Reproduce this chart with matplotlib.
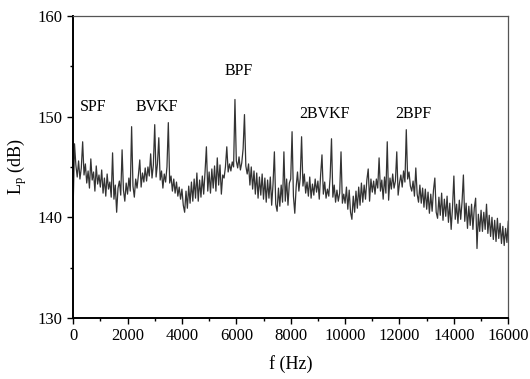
import numpy as np
import matplotlib
matplotlib.use("Agg")
import matplotlib.pyplot as plt
from matplotlib.ticker import MultipleLocator

plt.rcParams['font.family'] = ['Liberation Serif', 'DejaVu Serif']
plt.rcParams['mathtext.fontset'] = 'custom'
plt.rcParams['mathtext.rm'] = 'Liberation Serif'
plt.rcParams['mathtext.it'] = 'Liberation Serif:italic'

# spectrum, 50 Hz step from 0 to 16000 Hz
f_step = 50
lp_db = [
    141.0, 147.3, 145.2, 144.0, 145.6, 143.8, 144.9, 147.5, 144.2, 145.3,
    143.4, 144.6, 142.9, 145.8, 143.7, 144.5, 142.6, 145.1, 143.3, 144.2,
    143.0, 144.7, 142.4, 143.9, 142.1, 144.3, 142.8, 143.5, 142.0, 146.4,
    141.8, 143.2, 140.5, 142.9, 143.6, 142.2, 146.7, 142.7, 141.6, 143.4,
    142.3, 143.9, 142.6, 149.0, 143.1, 142.0, 143.8, 142.9, 144.2, 145.7,
    143.0, 144.4, 143.5, 144.9, 143.6, 145.0, 144.1, 146.3, 143.9, 145.2,
    149.2, 144.0, 145.3, 147.9, 143.7, 144.6, 142.9, 144.3, 143.5, 145.0,
    149.4, 143.4, 144.1, 142.6, 143.8, 142.4, 143.5, 142.1, 143.0, 141.8,
    142.8, 141.2, 140.5, 142.6, 140.9, 143.1, 141.4, 143.5, 141.6, 143.8,
    141.9, 144.4, 141.6, 143.7, 142.0, 144.1, 142.3, 144.5, 147.0, 142.6,
    144.5, 142.4, 144.8, 142.9, 145.1, 142.6, 145.9, 143.2, 145.2, 142.3,
    144.2, 143.9, 145.0, 147.0, 144.5, 145.3, 144.6, 145.5, 145.0, 151.7,
    145.6, 144.9, 146.0, 144.7, 145.4, 146.8, 150.2, 145.1, 144.3, 145.3,
    143.2, 145.0, 142.8, 144.6, 142.3, 144.4, 141.9, 144.0, 142.2, 144.3,
    141.8, 143.9, 141.5, 143.7, 141.9, 144.0, 141.2, 143.3, 146.5, 141.3,
    140.6, 142.9, 141.1, 143.2, 141.5, 146.5, 141.6, 143.8, 141.2, 143.4,
    143.8, 148.5, 142.1, 140.4, 143.0, 144.5, 142.6, 143.9, 148.0, 143.1,
    144.3, 142.4, 143.5, 142.1, 144.0, 141.9, 143.3, 142.2, 143.8, 142.5,
    143.6, 141.8, 144.2, 146.2, 142.3, 143.5, 141.9, 142.8, 142.1, 144.0,
    147.8, 142.0, 143.2, 141.5, 142.7, 141.6, 142.4, 146.5, 141.4, 142.3,
    141.4, 143.0, 140.8, 142.7, 140.5, 139.8, 142.1, 140.5, 142.6, 140.9,
    143.0, 141.2, 143.4, 141.5, 143.2, 141.8, 143.7, 144.8, 141.6, 143.8,
    142.5, 143.6, 142.3, 143.8, 142.9, 145.9, 142.6, 143.7, 141.8, 144.0,
    142.4, 147.5, 141.7, 143.9, 142.8, 144.3, 142.9, 143.6, 146.5, 142.2,
    143.4, 144.2, 143.0, 144.6, 143.5, 148.7, 143.8, 144.5, 143.1, 142.6,
    143.6, 142.1, 144.9, 142.3, 141.5, 143.2, 141.4, 142.9, 141.0, 142.8,
    140.8, 142.5, 140.4, 142.3, 140.6, 142.7, 143.9, 140.5, 139.9, 142.0,
    140.2, 142.4, 139.7, 141.8, 140.1, 142.1, 139.5, 141.4, 138.8, 141.0,
    144.1, 139.8, 141.3, 139.4, 141.7, 139.8, 141.5, 144.2, 139.6, 141.4,
    138.9, 141.1, 139.2, 141.3, 138.8, 140.9, 141.9, 136.9, 140.3, 138.6,
    140.7, 138.6, 140.5, 138.8, 141.3, 138.4, 140.2, 138.1, 140.0, 137.8,
    139.7, 137.6, 139.9, 137.9, 139.4, 137.4, 139.1, 137.2, 138.9, 137.5,
    139.6,
]
freq = np.arange(len(lp_db)) * f_step

peak_labels = ["SPF", "BVKF", "BPF", "2BVKF", "2BPF"]
label_f = [250, 2300, 5580, 8330, 11860]
label_db = [151.0, 151.0, 154.5, 150.3, 150.3]

fig = plt.figure(figsize=(5.30, 3.79), dpi=100)
ax = fig.add_axes([0.138, 0.161, 0.821, 0.797])

ax.plot(freq, lp_db, color='#333333', linewidth=0.9)

for name, x, y in zip(peak_labels, label_f, label_db):
    ax.text(x, y, name, fontsize=11.5, ha='left', va='center')

ax.set_xlim(0, 16000)
ax.set_ylim(130, 160)
ax.xaxis.set_major_locator(MultipleLocator(2000))
ax.xaxis.set_minor_locator(MultipleLocator(1000))
ax.yaxis.set_major_locator(MultipleLocator(10))
ax.yaxis.set_minor_locator(MultipleLocator(5))
ax.tick_params(which='major', direction='out', length=4, width=1, labelsize=12)
ax.tick_params(which='minor', direction='out', length=2.5, width=1)
ax.tick_params(top=False, right=False)

for side in ['left', 'bottom']:
    ax.spines[side].set_linewidth(1.4)
for side in ['top', 'right']:
    ax.spines[side].set_linewidth(0.9)
    ax.spines[side].set_color('#555555')

ax.set_xlabel('f (Hz)', fontsize=13, labelpad=8)
ax.set_ylabel(r'L$_\mathrm{p}$ (dB)', fontsize=13, labelpad=6)

fig.savefig('out.png', dpi=100)
